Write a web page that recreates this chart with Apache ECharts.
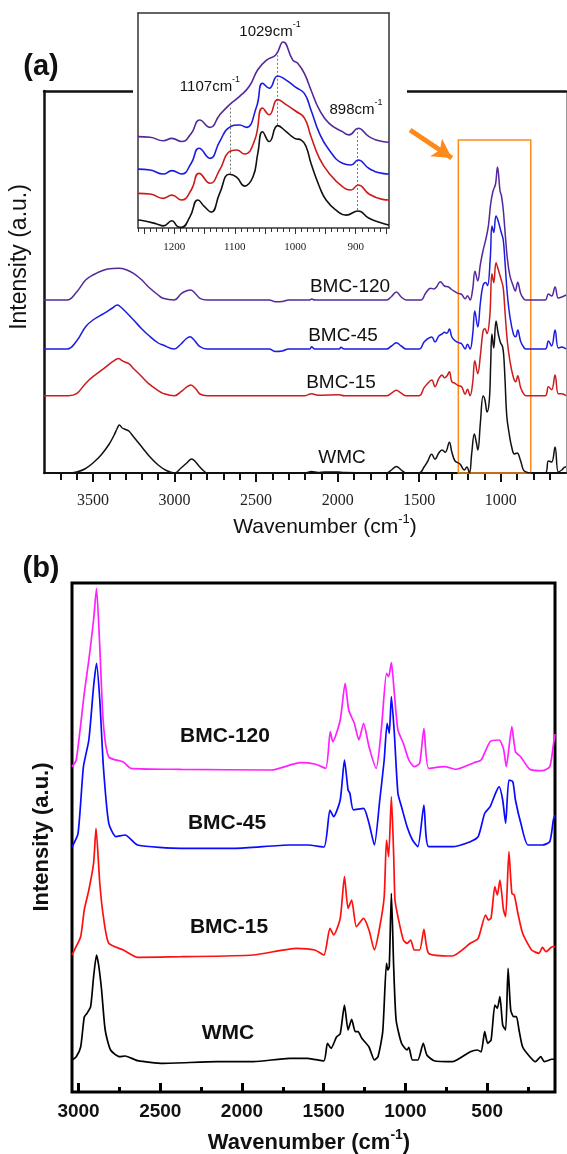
<!DOCTYPE html>
<html><head><meta charset="utf-8">
<script src="https://cdn.jsdelivr.net/npm/echarts@6/dist/echarts.min.js"></script>
<style>html,body{margin:0;padding:0;background:#fff}#c{width:567px;height:1154px}</style>
</head><body><div id="c"></div>
<script>
// ---------- panel (a): FTIR spectra, [wavenumber, intensity above own baseline] ----------
const ftirWMC = [[3800,0],[3650,0],[3600,1],[3550,4],[3500,10],[3450,18],[3400,29],[3370,38],[3350,45],[3338,48],[3320,45],[3300,43.5],[3280,42],[3250,36],[3200,26],[3150,16],[3100,8],[3050,2.5],[3000,0],[2960,5],[2925,10],[2895,14],[2870,11],[2850,7],[2820,2],[2800,0],[2200,0],[2160,1.5],[2120,0.5],[2080,1],[2040,1],[2000,1],[1960,0.5],[1700,0],[1670,3],[1640,6.5],[1610,3],[1580,0],[1500,0],[1470,6],[1450,11],[1423,18.7],[1403,13.7],[1380,20],[1360,23],[1340,20.7],[1315,30.7],[1300,21],[1280,12],[1250,9],[1223,3],[1208,6],[1192,0],[1178,19.7],[1162,39],[1150,31],[1140,23],[1125,50],[1108,77],[1097,73],[1084,61],[1070,73],[1062,107],[1054,139],[1043,125],[1029,152],[1015,139],[1001,130],[990,127],[982,118],[974,94],[963,57],[949,40],[933,26],[916,19],[900,20],[878,12],[861,3],[845,1],[820,0],[728,0],[708,12],[688,11],[667,26],[647,1],[626,3],[606,6],[600,6]];
const ftirBMC15 = [[3800,0],[3650,0],[3600,2],[3545,12.3],[3500,19],[3432,27.3],[3380,34],[3342,37.3],[3330,36],[3310,34],[3280,32],[3250,27],[3200,19],[3160,12.3],[3100,5],[3070,2.3],[3000,0],[2960,4],[2930,8],[2900,10.7],[2870,7],[2844,1.7],[2800,0],[2200,0],[2160,2],[2120,0.5],[1990,1],[1960,0],[1700,0],[1670,2.5],[1640,5.5],[1610,2.5],[1580,0],[1500,0],[1470,8],[1450,12],[1423,15.7],[1403,9],[1380,17],[1360,20.7],[1345,18],[1330,19.7],[1315,24],[1300,14],[1280,12.3],[1260,10],[1240,9],[1218,1.5],[1204,6.5],[1188,0],[1172,13],[1159,35],[1141,22],[1125,40],[1109,64],[1097,67],[1084,62],[1067,80],[1054,122],[1043,113],[1029,133],[1015,126],[999,117],[985,108],[974,84],[960,55],[944,35],[922,18],[908,14],[896,20],[878,8],[856,1],[845,0],[728,0],[708,9],[688,6],[667,20.7],[647,2],[626,2],[600,0]];
const ftirBMC45 = [[3800,0],[3658,0],[3600,8],[3545,22.3],[3500,29],[3432,35.7],[3380,41],[3350,44],[3330,42],[3310,39],[3280,34],[3251,29],[3200,20],[3161,14],[3100,6],[3070,4],[3002,0],[2960,5],[2930,10],[2905,12.3],[2880,9],[2844,2.3],[2800,0],[2420,0],[2380,-2.5],[2340,-2],[2300,0],[2170,0],[2160,2.3],[2140,0],[1990,0],[1980,1.7],[1960,0],[1700,0],[1670,3],[1640,6.3],[1610,3],[1580,0],[1500,0],[1470,7],[1450,10],[1423,12],[1403,7],[1380,13],[1360,15],[1345,16.7],[1330,15.7],[1315,20],[1300,12],[1280,8.3],[1260,6.4],[1240,5.3],[1218,0],[1204,4.7],[1188,0],[1172,14.6],[1159,38],[1141,22],[1125,46],[1109,63.4],[1092,66.6],[1081,63.4],[1064,91.4],[1054,123],[1043,116.5],[1029,133],[1015,127.6],[999,117.7],[985,109.5],[974,87],[960,55.2],[944,32.7],[922,14.6],[908,12.3],[896,19],[878,7.6],[856,1],[845,0],[728,0],[708,8],[688,3],[667,19],[647,1],[626,2],[600,0]];
const ftirBMC120 = [[3800,0],[3658,0],[3600,8],[3545,20],[3500,25],[3432,30],[3380,31.5],[3342,31.7],[3300,30.5],[3251,26.7],[3200,20],[3161,13.3],[3100,5],[3070,1.7],[3002,0],[2957,6.7],[2920,9.5],[2900,10],[2870,6],[2844,1.7],[2800,0],[2420,0],[2380,-1.7],[2340,-1.5],[2300,0],[2170,0],[2160,1],[2140,0],[1700,0],[1670,3.5],[1640,8],[1610,3],[1580,0],[1490,0],[1460,7],[1430,11.7],[1410,11],[1396,12.5],[1370,18.3],[1345,14],[1320,13],[1305,11],[1280,8.3],[1260,6.6],[1240,5.7],[1218,1.2],[1204,4.3],[1188,0],[1172,11],[1158,28.7],[1141,19],[1125,35.6],[1109,49],[1092,60.3],[1076,73.8],[1062,95.9],[1048,108.5],[1032,116],[1020,133],[1004,108.8],[996,104.5],[985,91],[974,68.9],[960,42.2],[944,24.4],[922,13.2],[911,8.9],[896,17.8],[878,6.6],[856,0.5],[845,0],[728,0],[708,6],[688,4],[667,13],[647,2],[626,3],[600,5]];
const ftirOffsets = [0, 77.3, 124, 173];          // WMC, BMC-15, BMC-45, BMC-120
const ftirTicks = [1000, 1500, 2000, 2500, 3000, 3500];

// inset: 1260–845 cm-1 region, stacked as plotted (0–100)
const insetWMC = [[1260,3.7],[1251,3.4],[1229,1.9],[1218,1],[1204,3.4],[1194,0.6],[1188,0.3],[1174,5.3],[1161,13],[1150,9.9],[1139,7.4],[1125,16.1],[1109,25],[1097,23.7],[1084,19.5],[1070,23.7],[1062,34.6],[1054,44.8],[1043,40.2],[1029,47.6],[1015,44.8],[1001,41.7],[990,40.9],[982,37.8],[974,30.1],[960,19.2],[949,13],[933,8.4],[916,6],[896,7.9],[878,4.5],[856,2.2],[845,1.4]];
const insetBMC15 = [[1260,16.1],[1240,15.8],[1218,13.8],[1204,15.3],[1188,13],[1172,17.7],[1159,25.4],[1141,20.8],[1125,27],[1109,35.5],[1097,36.3],[1084,34.4],[1067,40.9],[1054,55.8],[1043,52.7],[1029,59.7],[1015,57.4],[999,54.3],[985,51.2],[974,42.6],[960,32.4],[944,25.4],[922,19.2],[908,17.7],[896,20],[878,15.8],[856,13.3],[845,13]];
const insetBMC45 = [[1260,27.4],[1240,27],[1218,25.1],[1204,26.7],[1188,25.1],[1172,30.1],[1159,37.1],[1141,32.4],[1125,40.2],[1109,46.8],[1092,47.9],[1081,46.8],[1064,56.4],[1054,67.3],[1043,65],[1029,70.7],[1015,68.8],[999,65.4],[985,62.6],[974,54.9],[960,44],[944,36.3],[922,30.1],[908,29.3],[896,31.6],[878,27.7],[856,25.4],[845,25.1]];
const insetBMC120 = [[1260,42.5],[1240,42.2],[1218,40.6],[1204,41.7],[1188,40.2],[1172,44],[1158,50.2],[1141,46.8],[1125,52.6],[1109,57.3],[1092,61.2],[1076,65.9],[1062,73.6],[1048,78],[1032,80.6],[1020,86.5],[1004,78.1],[996,76.6],[985,71.9],[974,64.2],[960,54.9],[944,48.7],[922,44.8],[911,43.3],[896,46.4],[878,42.5],[856,40.2],[845,39.9]];
const insetTicks = [900, 1000, 1100, 1200];
const insetPeaks = [[1107, 25.3, 56.4], [1029, 48, 80.4], [898, 8.4, 46.5]];   // [cm-1, from, to]

// ---------- panel (b): Raman spectra, [wavenumber, intensity above own baseline] ----------
const ramanWMC = [[3040,2],[3014,5.3],[2987,15],[2965,45],[2948,48.7],[2926,55.3],[2908,85],[2890,107],[2877,97],[2859,72],[2837,32],[2804,12],[2749,5.3],[2715,6],[2638,1.3],[2484,-1.3],[2152,0.3],[1930,0.3],[1709,3.7],[1599,3.7],[1500,1],[1477,18.7],[1455,13.7],[1422,25],[1399,28.3],[1373,57],[1351,32],[1329,42.7],[1307,30.3],[1290,30.3],[1267,23.7],[1223,15],[1190,2],[1168,5.3],[1139,30.3],[1116,98.7],[1108,92],[1099,95.3],[1086,168.7],[1072,95.3],[1057,42],[1024,18.7],[990,12],[979,14.7],[957,2],[924,2],[891,18.7],[869,7],[825,1.3],[714,0.3],[603,10.3],[559,12],[537,10],[515,30.3],[497,18.7],[476,22],[453,57],[438,53.7],[422,65.3],[405,37],[387,32],[372,93.7],[356,52],[338,45.3],[321,45.3],[305,32],[283,15],[239,5.3],[205,0.3],[172,5.3],[150,0.3],[106,2.7],[85,3]];
const ramanBMC15 = [[3040,0],[3025,5],[2987,18.3],[2965,45],[2937,65],[2908,91.7],[2893,126.7],[2870,71.7],[2848,38.3],[2815,11.7],[2726,5],[2638,-2.3],[2373,-1.7],[1931,0],[1665,6.7],[1555,5],[1499,0],[1462,26.7],[1439,20],[1399,36.7],[1373,78.3],[1351,46.7],[1329,55],[1300,28.3],[1256,36.7],[1223,25],[1190,5],[1157,28.3],[1130,58.3],[1116,115],[1103,98.3],[1086,158.3],[1072,100],[1064,55],[1046,38.3],[1013,15],[990,11.7],[968,15],[946,5],[913,5],[887,25.7],[858,1.7],[714,-1],[603,11.7],[555,16.7],[510,40],[493,35],[476,37],[453,68.3],[438,60],[422,75],[400,45],[387,38.3],[367,103.3],[349,61.7],[334,60],[312,41.7],[283,21.7],[228,5],[183,1.7],[162,7.7],[140,3.3],[100,8.3],[85,8]];
const ramanBMC45 = [[3040,0],[3003,13.7],[2970,80.3],[2937,107],[2908,160.3],[2890,183.7],[2870,147],[2848,80.3],[2815,23.7],[2771,10.3],[2715,12],[2638,2],[2373,-1.3],[2041,-1.3],[1709,2],[1599,2],[1499,0],[1462,37],[1439,30.3],[1399,47],[1373,87],[1351,57],[1340,53.7],[1318,37],[1256,38.7],[1223,23.7],[1190,2],[1157,47],[1130,87],[1112,123.7],[1099,113.7],[1086,150.3],[1068,113.7],[1046,53.7],[1024,40.3],[990,20.3],[957,7],[924,0.3],[887,42],[858,0.3],[714,0.3],[603,5.3],[555,10.3],[515,33.7],[482,40.3],[449,53.7],[427,60.3],[405,47],[387,23.7],[367,67],[343,65.3],[327,47],[294,23.7],[250,2],[162,2],[117,5.3],[95,27],[85,32]];
const ramanBMC120 = [[3040,2.3],[3014,9],[2965,75.7],[2937,109],[2908,149],[2890,180.7],[2870,122],[2848,45.3],[2815,12],[2726,7],[2680,0.7],[2373,-0.3],[1820,-1],[1643,6.3],[1555,5],[1488,0.7],[1460,37.3],[1444,27.3],[1399,49],[1369,85.7],[1347,59],[1313,45.7],[1285,29],[1256,45.7],[1223,22.3],[1179,0.7],[1146,42.3],[1116,95.7],[1103,92.3],[1086,106.3],[1068,75.7],[1046,39],[1013,25.7],[979,9],[946,2.3],[913,5.7],[887,40.7],[858,0.7],[759,2.3],[692,-0.3],[581,6.3],[537,9],[482,27.3],[427,29],[400,20],[383,2.3],[349,42.3],[327,17.3],[294,12],[239,-0.3],[162,-1.7],[117,2.3],[95,24],[85,35]];
const ramanOffsets = [30, 137, 245, 323];
const ramanTicks = [500, 1000, 1500, 2000, 2500, 3000];

const sampleNames = ['WMC', 'BMC-15', 'BMC-45', 'BMC-120'];
const ftirColors = ['#111111', '#cc1b1b', '#1c1ce0', '#55289a'];
const ramanColors = ['#000000', '#ff1010', '#0a0aff', '#ff20ff'];

// ---------- helpers ----------
const lift = (arr, off) => arr.map(p => [p[0], p[1] + off]);
const steps = (a, b, s) => { const r = []; for (let v = a; v <= b + 1e-9; v += s) r.push(v); return r; };
const plain = v => String(v);
const orange = '#ff8a1c';

const chart = echarts.init(document.getElementById('c'), null, {renderer: 'canvas'});

const lineSeries = (name, data, color, xi, yi, width, z, smooth, extra) => Object.assign({
  type: 'line', name, data, xAxisIndex: xi, yAxisIndex: yi,
  showSymbol: false, smooth, z,
  lineStyle: {color, width}, itemStyle: {color}, silent: true
}, extra || {});

const ftirRaw = [ftirWMC, ftirBMC15, ftirBMC45, ftirBMC120];
const insetRaw = [insetWMC, insetBMC15, insetBMC45, insetBMC120];
const ramanRaw = [ramanWMC, ramanBMC15, ramanBMC45, ramanBMC120];

const series = [];
ftirRaw.forEach((d, i) => series.push(lineSeries(sampleNames[i], lift(d, ftirOffsets[i]), ftirColors[i], 0, 0, 1.5, 2, 0.4)));
// orange frame around the 1260–816 region and the arrow pointing at it
series.push({
  type: 'line', data: [], xAxisIndex: 0, yAxisIndex: 0, silent: true,
  markArea: {silent: true, itemStyle: {color: 'rgba(0,0,0,0)', borderColor: orange, borderWidth: 1.5},
    data: [[{coord: [1260, 0]}, {coord: [816, 333]}]]},
  markLine: {silent: true, symbol: ['none', 'arrow'], symbolSize: [16, 19], label: {show: false},
    lineStyle: {color: orange, width: 5, type: 'solid'},
    data: [[{coord: [1556, 343]}, {coord: [1300, 315]}]]}
});
insetRaw.forEach((d, i) => {
  const extra = i === 0 ? {markLine: {silent: true, symbol: 'none', label: {show: false},
    lineStyle: {color: '#777', width: 1, type: [2, 2]},
    data: insetPeaks.map(p => [{coord: [p[0], p[1]]}, {coord: [p[0], p[2]]}])}} : {};
  series.push(lineSeries('inset ' + sampleNames[i], d, ftirColors[i], 3, 2, 1.6, 8, 0.5, extra));
});
ramanRaw.forEach((d, i) => series.push(lineSeries(sampleNames[i], lift(d, ramanOffsets[i]), ramanColors[i], 6, 4, 1.7, 2, 0.2)));

const hidden = {show: false};
const serif = 'Liberation Serif, Times New Roman, serif';
const sans = 'Liberation Sans, Arial, sans-serif';

const supRich = (size, bold) => ({
  n: {fontSize: size, fontFamily: sans, fontWeight: bold ? 'bold' : 'normal', lineHeight: size + 8, fill: '#111'},
  s: {fontSize: Math.round(size * 0.62), fontFamily: sans, fontWeight: bold ? 'bold' : 'normal', verticalAlign: 'top', lineHeight: Math.round(size * 0.62), fill: '#111'}
});
const txt = (x, y, text, size, bold, extra) => Object.assign({
  type: 'text', x, y, z: 20, silent: true,
  style: {text, fontSize: size, fontFamily: sans, fontWeight: bold ? 'bold' : 'normal', fill: '#111', align: 'center', verticalAlign: 'middle'}
}, extra || {});
const supTxt = (x, y, text, size, bold, rot) => ({
  type: 'text', x, y, z: 20, silent: true, rotation: rot || 0,
  style: {text, rich: supRich(size, bold), align: 'center', verticalAlign: 'middle'}
});

const option = {
  animation: false,
  backgroundColor: '#fff',
  grid: [
    {left: 44, right: 1, top: 91, height: 382},
    {left: 138, top: 13, width: 251, height: 215},
    {left: 72, top: 583, width: 483, height: 509, show: true, borderColor: '#000', borderWidth: 3, backgroundColor: 'transparent'}
  ],
  xAxis: [
    {gridIndex: 0, type: 'value', position: 'bottom', inverse: true, min: 600, max: 3800,
      axisLine: {lineStyle: {color: '#111', width: 2}},
      axisTick: {customValues: ftirTicks, length: 9, lineStyle: {color: '#111', width: 2}},
      axisLabel: {customValues: ftirTicks, formatter: plain, fontFamily: serif, fontSize: 16, color: '#222', margin: 20},
      splitLine: hidden},
    {gridIndex: 0, type: 'value', position: 'bottom', inverse: true, min: 600, max: 3800,
      axisLine: hidden, axisLabel: hidden, splitLine: hidden,
      axisTick: {customValues: steps(700, 3700, 100), length: 7, lineStyle: {color: '#111', width: 2}}},
    {gridIndex: 0, type: 'value', position: 'top', inverse: true, min: 600, max: 3800,
      axisLine: {lineStyle: {color: '#111', width: 2.5}}, axisTick: hidden, axisLabel: hidden, splitLine: hidden},
    {gridIndex: 1, type: 'value', position: 'bottom', inverse: true, min: 845, max: 1260, z: 6,
      axisLine: {lineStyle: {color: '#333', width: 1.5}},
      axisTick: {customValues: steps(850, 1250, 50), length: 6, lineStyle: {color: '#333', width: 1}},
      axisLabel: {customValues: insetTicks, formatter: plain, fontFamily: serif, fontSize: 11, color: '#222', margin: 14},
      splitLine: hidden},
    {gridIndex: 1, type: 'value', position: 'bottom', inverse: true, min: 845, max: 1260, z: 6,
      axisLine: hidden, axisLabel: hidden, splitLine: hidden,
      axisTick: {customValues: steps(850, 1260, 10), length: 4, lineStyle: {color: '#333', width: 1}}},
    {gridIndex: 1, type: 'value', position: 'top', inverse: true, min: 845, max: 1260, z: 6,
      axisLine: {lineStyle: {color: '#333', width: 1.5}}, axisTick: hidden, axisLabel: hidden, splitLine: hidden},
    {gridIndex: 2, type: 'value', position: 'bottom', inverse: true, min: 85, max: 3040,
      axisLine: hidden,
      axisTick: {inside: true, customValues: ramanTicks, length: 9, lineStyle: {color: '#000', width: 3}},
      axisLabel: {customValues: ramanTicks, formatter: plain, fontFamily: sans, fontWeight: 'bold', fontSize: 19, color: '#111', margin: 10},
      splitLine: hidden},
    {gridIndex: 2, type: 'value', position: 'bottom', inverse: true, min: 85, max: 3040,
      axisLine: hidden, axisLabel: hidden, splitLine: hidden,
      axisTick: {inside: true, customValues: steps(250, 2750, 500), length: 5, lineStyle: {color: '#000', width: 3}}}
  ],
  yAxis: [
    {gridIndex: 0, type: 'value', position: 'left', min: 0, max: 382, axisLine: {show: true, lineStyle: {color: '#111', width: 2.5}},
      axisTick: hidden, axisLabel: hidden, splitLine: hidden},
    {gridIndex: 0, type: 'value', position: 'right', min: 0, max: 382, axisLine: {show: true, lineStyle: {color: '#999', width: 1}},
      axisTick: hidden, axisLabel: hidden, splitLine: hidden},
    {gridIndex: 1, type: 'value', position: 'left', min: 0, max: 100, z: 6, axisLine: {show: true, lineStyle: {color: '#333', width: 1.5}},
      axisTick: hidden, axisLabel: hidden, splitLine: hidden},
    {gridIndex: 1, type: 'value', position: 'right', min: 0, max: 100, z: 6, axisLine: {show: true, lineStyle: {color: '#333', width: 1.5}},
      axisTick: hidden, axisLabel: hidden, splitLine: hidden},
    {gridIndex: 2, type: 'value', min: 0, max: 509, axisLine: hidden, axisTick: hidden, axisLabel: hidden, splitLine: hidden}
  ],
  series,
  graphic: [
    // white backing for the inset, interrupting the top frame line of panel (a)
    {type: 'rect', z: 4, silent: true, shape: {x: 133, y: 0, width: 274, height: 242}, style: {fill: '#fff'}},
    txt(41, 67, '(a)', 29, true),
    txt(41, 569, '(b)', 29, true),
    // panel (a) labels
    txt(350, 287, 'BMC-120', 19, false),
    txt(343, 336, 'BMC-45', 19, false),
    txt(341, 383, 'BMC-15', 19, false),
    txt(342, 458, 'WMC', 19, false),
    supTxt(325, 527, '{n|Wavenumber (cm}{s|-1}{n|)}', 21, false),
    txt(20, 257, 'Intensity (a.u.)', 23, false, {rotation: Math.PI / 2}),
    // inset labels
    supTxt(210, 87, '{n|1107cm}{s|-1}', 15, false),
    supTxt(270, 32, '{n|1029cm}{s|-1}', 15, false),
    supTxt(356, 110, '{n|898cm}{s|-1}', 15, false),
    // panel (b) labels
    txt(225, 736, 'BMC-120', 21, true),
    txt(227, 823, 'BMC-45', 21, true),
    txt(229, 927, 'BMC-15', 21, true),
    txt(228, 1033, 'WMC', 21, true),
    supTxt(309, 1143, '{n|Wavenumber (cm}{s|-1}{n|)}', 22, true),
    txt(42, 837, 'Intensity (a.u.)', 22, true, {rotation: Math.PI / 2})
  ]
};
chart.setOption(option);
</script></body></html>
